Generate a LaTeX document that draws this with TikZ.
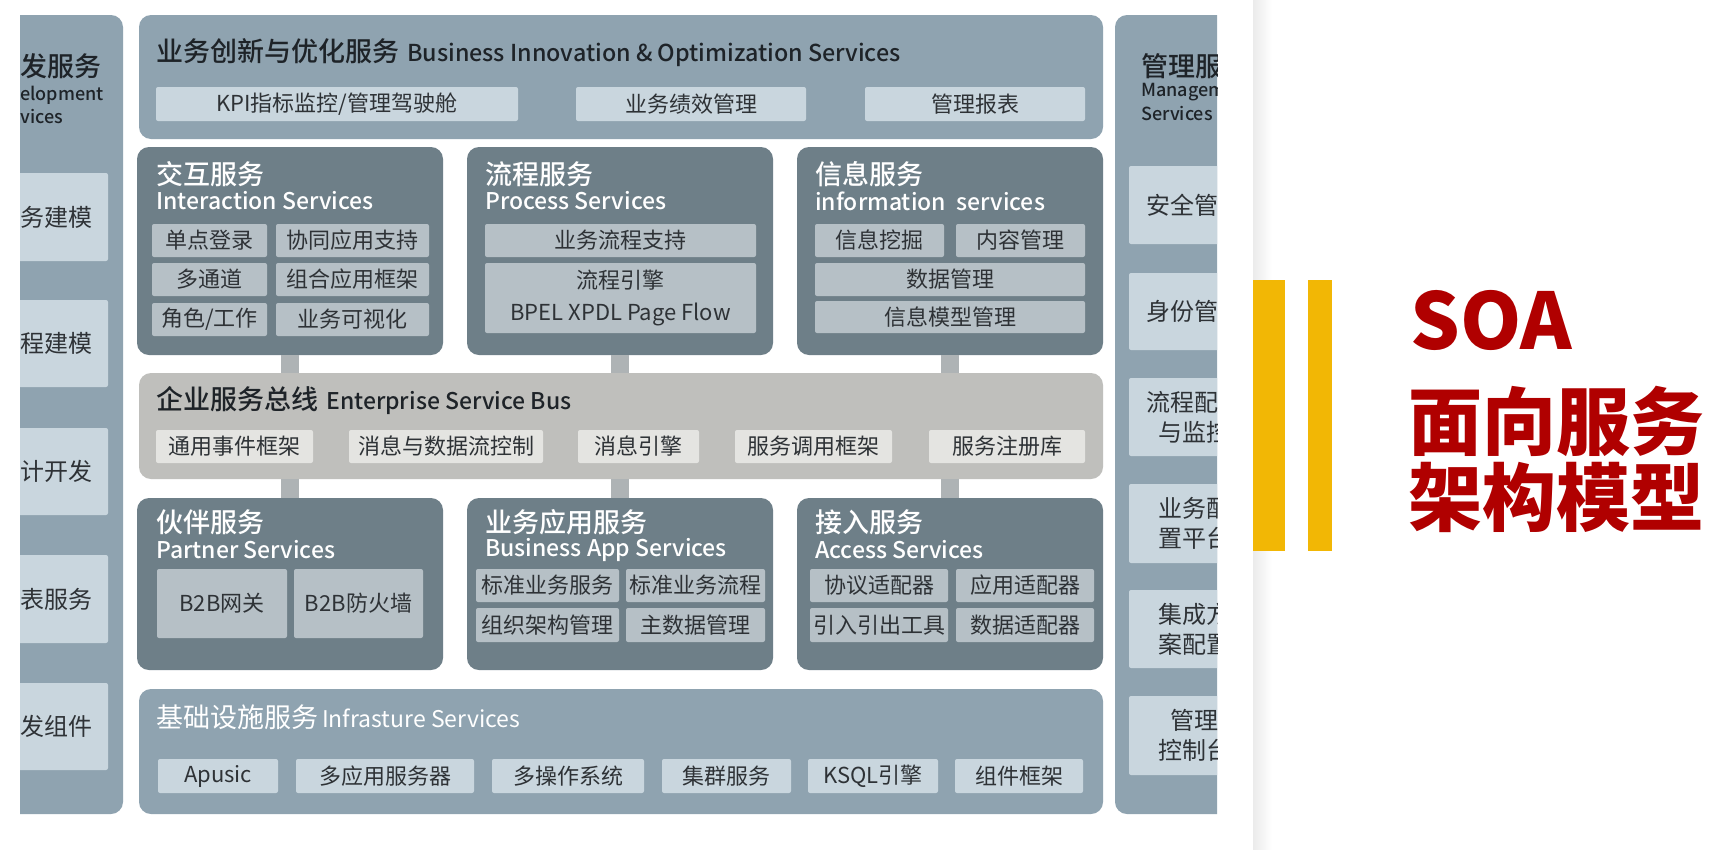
\documentclass[tikz,border=0pt]{standalone}
\usepackage{fontspec}
\setmainfont{Noto Sans CJK SC}
\newfontfamily\medfont{Noto Sans CJK SC Medium}
\newfontfamily\heavyfont{Noto Sans CJK SC Black}
\usetikzlibrary{positioning}

\definecolor{panelblue}{HTML}{8FA3B0}
\definecolor{paneldark}{HTML}{6E7F88}
\definecolor{busgray}{HTML}{BFBFBC}
\definecolor{linkgray}{HTML}{AEB3B5}
\definecolor{itemlight}{HTML}{C9D6DE}
\definecolor{itemdark}{HTML}{B6C0C6}
\definecolor{itembus}{HTML}{E4E4E1}
\definecolor{itemtext}{HTML}{2E3236}
\definecolor{titledark}{HTML}{1E2328}
\definecolor{soared}{HTML}{B00000}
\definecolor{baryellow}{HTML}{F2B705}

\begin{document}
\begin{tikzpicture}[x=1pt, y=-1pt,
    wh/.style 2 args={minimum width=#1, minimum height=#2},
    lightpanel/.style={fill=panelblue, rounded corners=12pt, inner sep=0},
    darkpanel/.style={fill=paneldark, rounded corners=12pt, inner sep=0},
    buspanel/.style={fill=busgray, rounded corners=12pt, inner sep=0},
    item/.style={fill=itemlight, rounded corners=2pt, inner sep=0, align=center, text=itemtext, font=\fontsize{22}{32}\selectfont},
    darkitem/.style={item, fill=itemdark},
    busitem/.style={item, fill=itembus},
    sideitem/.style={item, font=\fontsize{24}{30}\selectfont},
    sidetext/.style={anchor=west, inner sep=0, text=itemtext, font=\fontsize{24}{30}\selectfont},
    cntitle/.style={anchor=west, inner sep=0, font=\medfont\fontsize{27}{30}\selectfont},
    entitle/.style={anchor=west, inner sep=0, font=\medfont\fontsize{23}{26}\selectfont},
    sidetitle/.style={anchor=west, inner sep=0, text=titledark, font=\medfont\fontsize{18}{22}\selectfont},
    link/.style={draw=linkgray, line width=18pt},
    bigtitle/.style={anchor=west, inner sep=0, text=soared, font=\heavyfont\fontsize{74}{80}\selectfont}
  ]
    \useasboundingbox[fill=white] (0,0) rectangle (1724,849);

    % left column (cut off by the screenshot)
    \begin{scope}
      \clip (20,0) rectangle (140,849);
      \node[lightpanel, wh={153}{799}] (dev) at (46.5,414.5) {};
      \node[item, wh={120}{88}] (d1) at (48,217)   {};
      \node[item, wh={120}{87}] (d2) at (48,343.5) {};
      \node[item, wh={120}{87}] (d3) at (48,471.5) {};
      \node[item, wh={120}{88}] (d4) at (48,599)   {};
      \node[item, wh={120}{87}] (d5) at (48,726.5) {};
    \end{scope}
    \node[cntitle, text=titledark] (devt1) at (20,66) {发服务};
    \node[sidetitle] (devt2) at (20,95) {elopment};
    \node[sidetitle] (devt3) at (20,117) {vices};
    \node[sidetext] (d1t) at (20,217)   {务建模};
    \node[sidetext] (d2t) at (20,343.5) {程建模};
    \node[sidetext] (d3t) at (20,471.5) {计开发};
    \node[sidetext] (d4t) at (20,599)   {表服务};
    \node[sidetext] (d5t) at (20,726.5) {发组件};

    % business innovation
    \node[lightpanel, wh={964}{124}] (bio) at (621,77) {};
    \node[cntitle, text=titledark] (biot) at (156,53) {业务创新与优化服务\hspace{8pt}{\fontsize{23.3}{26}\selectfont Business Innovation \& Optimization Services}};
    \node[item, wh={362}{34}] (kpi)  at (337,104) {KPI指标监控/管理驾驶舱};
    \node[item, wh={230}{34}] (perf) at (691,104) {业务绩效管理};
    \node[item, wh={220}{34}] (rep)  at (975,104) {管理报表};

    % upper service row
    \node[darkpanel, wh={306}{208}] (inter) at (290,251) {};
    \node[darkpanel, wh={306}{208}] (proc)  at (620,251) {};
    \node[darkpanel, wh={306}{208}] (info)  at (950,251) {};

    \node[cntitle, text=white] (intert1) at (156,174) {交互服务};
    \node[entitle, text=white] (intert2) at (156,201) {Interaction Services};
    \node[darkitem, wh={115}{33}] (i1) at (209.5,240.5) {单点登录};
    \node[darkitem, wh={153}{33}] (i2) at (352.5,240.5) {协同应用支持};
    \node[darkitem, wh={115}{33}] (i3) at (209.5,279.5) {多通道};
    \node[darkitem, wh={153}{33}] (i4) at (352.5,279.5) {组合应用框架};
    \node[darkitem, wh={115}{33}] (i5) at (209.5,319.5) {角色/工作};
    \node[darkitem, wh={153}{33}] (i6) at (352.5,319.5) {业务可视化};

    \node[cntitle, text=white] (proct1) at (485,174) {流程服务};
    \node[entitle, text=white] (proct2) at (485,201) {Process Services};
    \node[darkitem, wh={271}{33}] (p1) at (620.5,240.5) {业务流程支持};
    \node[darkitem, wh={271}{70}] (p2) at (620.5,298) {流程引擎\\BPEL XPDL Page Flow};

    \node[cntitle, text=white] (infot1) at (815,174) {信息服务};
    \node[entitle, text=white] (infot2) at (815,201) {information\ \ services};
    \node[darkitem, wh={129}{33}] (f1) at (879.5,240.5) {信息挖掘};
    \node[darkitem, wh={129}{33}] (f2) at (1020.5,240.5) {内容管理};
    \node[darkitem, wh={270}{33}] (f3) at (950,279.5) {数据管理};
    \node[darkitem, wh={270}{32}] (f4) at (950,317) {信息模型管理};

    % enterprise service bus
    \node[buspanel, wh={964}{106}] (esb) at (621,426) {};
    \node[cntitle, text=titledark] (esbt) at (156,401) {企业服务总线\hspace{8pt}{\fontsize{23}{26}\selectfont Enterprise Service Bus}};
    \node[busitem, wh={157}{33}] (e1) at (234.5,446.5) {通用事件框架};
    \node[busitem, wh={194}{33}] (e2) at (446,446.5)   {消息与数据流控制};
    \node[busitem, wh={121}{33}] (e3) at (638.5,446.5) {消息引擎};
    \node[busitem, wh={157}{33}] (e4) at (813.5,446.5) {服务调用框架};
    \node[busitem, wh={156}{33}] (e5) at (1007,446.5)  {服务注册库};

    % lower service row
    \node[darkpanel, wh={306}{172}] (part) at (290,584) {};
    \node[darkpanel, wh={306}{172}] (app)  at (620,584) {};
    \node[darkpanel, wh={306}{172}] (acc)  at (950,584) {};

    \node[cntitle, text=white] (partt1) at (156,522) {伙伴服务};
    \node[entitle, text=white] (partt2) at (156,550) {Partner Services};
    \node[darkitem, wh={130}{69}] (b1) at (222,603.5)   {B2B网关};
    \node[darkitem, wh={129}{69}] (b2) at (358.5,603.5) {B2B防火墙};

    \node[cntitle, text=white] (appt1) at (485,522) {业务应用服务};
    \node[entitle, text=white] (appt2) at (485,550) {Business App Services};
    \node[darkitem, wh={143}{33}] (a1) at (547.5,585.5) {标准业务服务};
    \node[darkitem, wh={139}{33}] (a2) at (695.5,585.5) {标准业务流程};
    \node[darkitem, wh={143}{34}] (a3) at (547.5,625)   {组织架构管理};
    \node[darkitem, wh={139}{34}] (a4) at (695.5,625)   {主数据管理};

    \node[cntitle, text=white] (acct1) at (815,522) {接入服务};
    \node[entitle, text=white] (acct2) at (815,550) {Access Services};
    \node[darkitem, wh={138}{33}] (c1) at (879,585.5)  {协议适配器};
    \node[darkitem, wh={138}{33}] (c2) at (1025,585.5) {应用适配器};
    \node[darkitem, wh={138}{34}] (c3) at (879,625)    {引入引出工具};
    \node[darkitem, wh={138}{34}] (c4) at (1025,625)   {数据适配器};

    % bus links
    \draw[link] (inter.south) -- (inter.south |- esb.north);
    \draw[link] (proc.south) -- (proc.south |- esb.north);
    \draw[link] (info.south) -- (info.south |- esb.north);
    \draw[link] (part.north |- esb.south) -- (part.north);
    \draw[link] (app.north |- esb.south) -- (app.north);
    \draw[link] (acc.north |- esb.south) -- (acc.north);

    % infrastructure
    \node[lightpanel, wh={964}{125}] (infra) at (621,751.5) {};
    \node[cntitle, text=white, font=\fontsize{27}{30}\selectfont] (infrat) at (156,717) {基础设施服务\hspace{4pt}{\fontsize{23}{26}\selectfont Infrasture Services}};
    \node[item, wh={120}{34}] (s1) at (218,776)   {Apusic};
    \node[item, wh={178}{34}] (s2) at (385,776)   {多应用服务器};
    \node[item, wh={152}{34}] (s3) at (568,776)   {多操作系统};
    \node[item, wh={129}{34}] (s4) at (726.5,776) {集群服务};
    \node[item, wh={130}{34}] (s5) at (873,776)   {KSQL引擎};
    \node[item, wh={128}{34}] (s6) at (1019,776)  {组件框架};

    % right column (cut off by the screenshot)
    \begin{scope}
      \clip (1100,0) rectangle (1217,849);
      \node[lightpanel, wh={165}{799}] (mgmt) at (1197.5,414.5) {};
      \node[cntitle, text=titledark] (mgmtt1) at (1141,66) {管理服务};
      \node[sidetitle] (mgmtt2) at (1141,92)  {Management};
      \node[sidetitle] (mgmtt3) at (1141,114) {Services};
      \node[sideitem, wh={130}{78}] (m1) at (1194,205)   {安全管理};
      \node[sideitem, wh={130}{77}] (m2) at (1194,311.5) {身份管理};
      \node[sideitem, wh={130}{78}] (m3) at (1194,417)   {流程配置\\与监控};
      \node[sideitem, wh={130}{79}] (m4) at (1194,523.5) {业务配\\置平台};
      \node[sideitem, wh={130}{78}] (m5) at (1194,629)   {集成方\\案配置};
      \node[sideitem, wh={130}{79}] (m6) at (1194,735.5) {管理\\控制台};
    \end{scope}

    % title side
    \shade[left color=black!8, right color=white] (1253,0) rectangle (1272,849);
    \fill[baryellow] (1253,280) rectangle (1285,551);
    \fill[baryellow] (1308,280) rectangle (1332,551);
    \node[bigtitle, font=\heavyfont\fontsize{78}{82}\selectfont] (soa) at (1410,320) {SOA};
    \node[bigtitle] (soa2) at (1408,421) {面向服务};
    \node[bigtitle] (soa3) at (1408,497) {架构模型};
\end{tikzpicture}
\end{document}
